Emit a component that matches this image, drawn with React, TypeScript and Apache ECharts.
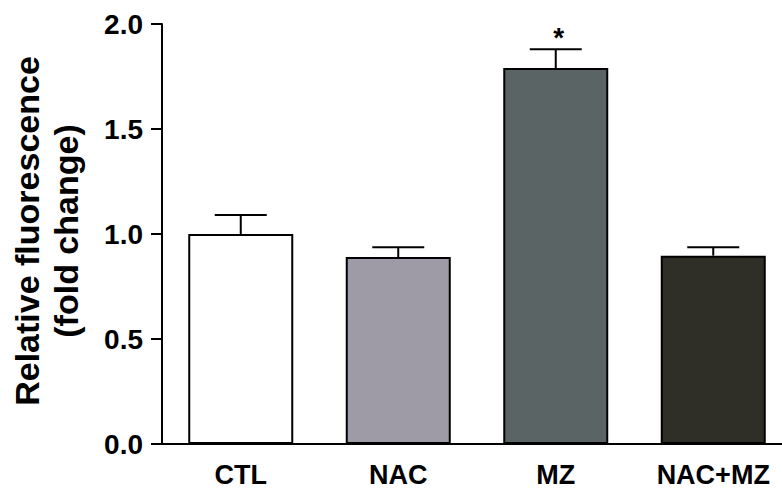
import React, { useEffect, useRef } from "react";
import * as echarts from "echarts";

const categories = ["CTL", "NAC", "MZ", "NAC+MZ"];
const means = [1.0, 0.89, 1.79, 0.897];
const errorTops = [1.09, 0.937, 1.88, 0.937];
const significance = ["", "", "*", ""];
const barColors = ["#ffffff", "#9e9ba6", "#5a6464", "#2f2f28"];
const yTicks = { min: 0, max: 2, interval: 0.5 };
const yTitle = "Relative fluorescence\n(fold change)";

const FONT = "'Liberation Sans', Arial, Helvetica, sans-serif";

export default function App() {
  const ref = useRef<HTMLDivElement>(null);
  useEffect(() => {
    if (!ref.current) return;
    const chart = echarts.init(ref.current, null, { renderer: "svg" });
    const option: any = {
      animation: false,
      backgroundColor: "#ffffff",
      grid: {
        left: 162,
        right: -10,
        top: 24,
        bottom: 44,
        containLabel: false,
        outerBoundsMode: "none",
      },
      xAxis: {
        type: "category",
        data: categories,
        axisLine: { lineStyle: { color: "#000", width: 2 } },
        axisTick: { alignWithLabel: true, length: 11, lineStyle: { color: "#000", width: 2 } },
        axisLabel: {
          color: "#000",
          fontFamily: FONT,
          fontWeight: "bold",
          fontSize: 27,
          margin: 17,
        },
      },
      yAxis: {
        type: "value",
        min: yTicks.min,
        max: yTicks.max,
        interval: yTicks.interval,
        splitLine: { show: false },
        axisLine: { show: true, lineStyle: { color: "#000", width: 2 } },
        axisTick: { show: true, length: 11, lineStyle: { color: "#000", width: 2 } },
        axisLabel: {
          color: "#000",
          fontFamily: FONT,
          fontWeight: "bold",
          fontSize: 28,
          margin: 19,
          formatter: (v: number) => v.toFixed(1),
        },
      },
      graphic: [
        {
          type: "text",
          x: 46,
          y: 231,
          rotation: Math.PI / 2,
          style: {
            text: yTitle,
            fill: "#000",
            font: `bold 34px ${FONT}`,
            textAlign: "center",
            textVerticalAlign: "middle",
            lineHeight: 39,
          },
        },
      ],
      series: [
        {
          type: "bar",
          barWidth: 105,
          data: means.map((v, i) => ({
            value: v,
            itemStyle: { color: barColors[i], borderColor: "#000", borderWidth: 2 },
          })),
        },
        {
          type: "custom",
          data: means.map((m, i) => [i, m, errorTops[i]]),
          renderItem: (params: any, api: any) => {
            const i = api.value(0);
            const base = api.coord([i, api.value(1)]);
            const top = api.coord([i, api.value(2)]);
            const half = 26;
            const children: any[] = [
              {
                type: "line",
                shape: { x1: base[0], y1: base[1], x2: top[0], y2: top[1] },
                style: { stroke: "#000", lineWidth: 2 },
              },
              {
                type: "line",
                shape: { x1: top[0] - half, y1: top[1], x2: top[0] + half, y2: top[1] },
                style: { stroke: "#000", lineWidth: 2 },
              },
            ];
            const sig = significance[params.dataIndex];
            if (sig) {
              children.push({
                type: "text",
                x: top[0] + 3,
                y: top[1] + 2,
                style: {
                  text: sig,
                  fill: "#000",
                  font: `bold 28px ${FONT}`,
                  textAlign: "center",
                  textVerticalAlign: "bottom",
                },
              });
            }
            return { type: "group", children };
          },
          z: 5,
        },
      ],
    };
    chart.setOption(option);
    return () => chart.dispose();
  }, []);
  return (
    <div
      ref={ref}
      style={{ position: "fixed", left: 0, top: 0, width: 782, height: 488 }}
    />
  );
}
